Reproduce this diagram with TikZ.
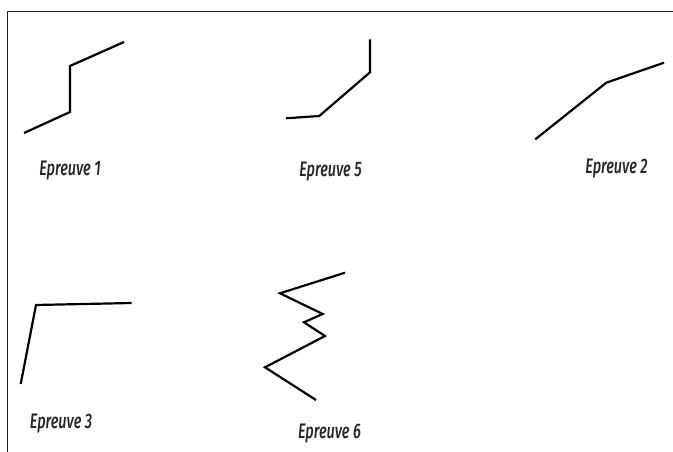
\documentclass[tikz,border=0pt]{standalone}
\usepackage{fontspec}
\newfontfamily\labfont[FakeStretch=0.69]{Fira Sans Medium Italic}
\begin{document}
\begin{tikzpicture}[x=1pt,y=-1pt,
  curve/.style={line width=2.2pt,line join=miter,black},
  frame/.style={line width=1.3pt,black!85},
  lab/.style={font=\labfont\fontsize{21}{23}\selectfont,anchor=base,inner sep=0pt,black!85}]
\useasboundingbox (0,0) rectangle (673,452);
% frame
\draw[frame] (7.6,452) -- (7.6,11.5) -- (673,11.5);
% Epreuve 1
\draw[curve] (24,133) -- (70,112) -- (70,66) -- (124,42);
\node[lab] (l1) at (70,175.5) {Epreuve 1};
% Epreuve 5
\draw[curve] (286,118.3) -- (319.3,116) -- (370,72.3) -- (370,39.3);
\node[lab] (l5) at (330.5,176.5) {Epreuve 5};
% Epreuve 2
\draw[curve] (535.3,139.3) -- (606.3,82.7) -- (664,62.7);
\node[lab] (l2) at (616.5,173.5) {Epreuve 2};
% Epreuve 3
\draw[curve] (20.7,384) -- (36,305) -- (131.7,303);
\node[lab] (l3) at (61,428.5) {Epreuve 3};
% Epreuve 6
\draw[curve] (345,272.7) -- (280,293.3) -- (322.7,314) -- (304,322.3) -- (325,336) -- (265,367.3) -- (316,400);
\node[lab] (l6) at (329.5,438.8) {Epreuve 6};
\end{tikzpicture}
\end{document}
